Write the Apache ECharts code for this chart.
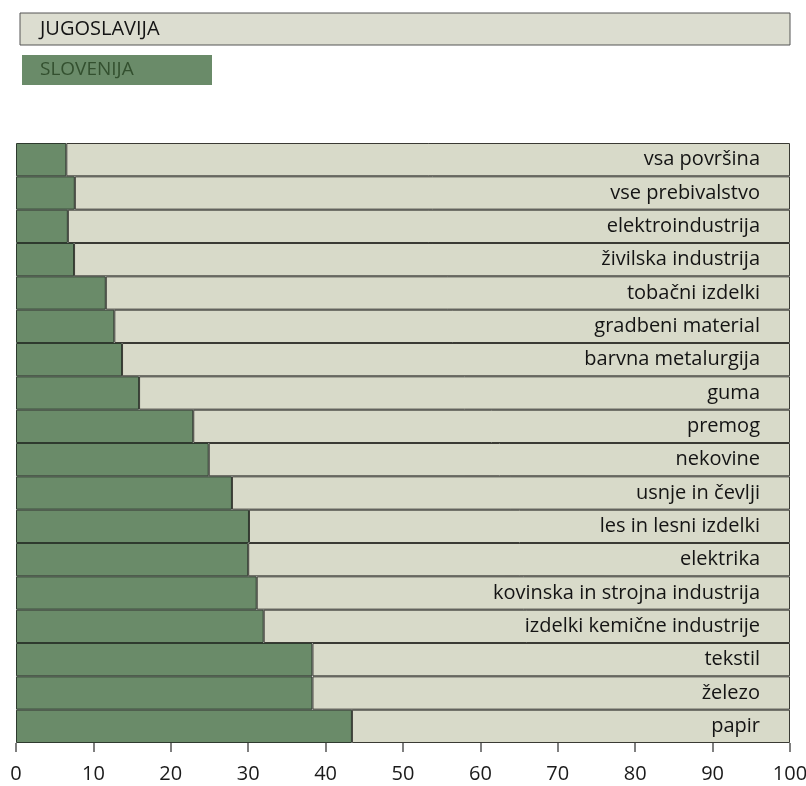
<!DOCTYPE html>
<html>
<head>
<meta charset="utf-8">
<script src="https://cdn.jsdelivr.net/npm/echarts@6/dist/echarts.min.js"></script>
<style>
html, body { margin: 0; padding: 0; background: #fff; }
#chart { width: 806px; height: 786px; }
</style>
</head>
<body>
<div id="chart"></div>
<script>
var categories = ['vsa površina', 'vse prebivalstvo', 'elektroindustrija', 'živilska industrija',
    'tobačni izdelki', 'gradbeni material', 'barvna metalurgija', 'guma', 'premog', 'nekovine',
    'usnje in čevlji', 'les in lesni izdelki', 'elektrika', 'kovinska in strojna industrija',
    'izdelki kemične industrije', 'tekstil', 'železo', 'papir'];
// delež Slovenije (%)
var slovenija = [6.5, 7.6, 6.7, 7.5, 11.6, 12.7, 13.7, 15.9, 22.9, 24.9, 27.9, 30.1, 30.0, 31.1, 32.0, 38.3, 38.3, 43.4];
// ostanek do 100 = Jugoslavija brez Slovenije
var jugoslavija = slovenija.map(function (v) { return Math.round((100 - v) * 10) / 10; });
var xTicks = [0, 10, 20, 30, 40, 50, 60, 70, 80, 90, 100];

var chart = echarts.init(document.getElementById('chart'));
var font = '"Open Sans", "Noto Sans", sans-serif';

var option = {
    animation: false,
    textStyle: { fontFamily: font },
    grid: { left: 16, right: 16, top: 143, bottom: 43, outerBoundsMode: 'none' },
    xAxis: {
        type: 'value',
        min: 0,
        max: 100,
        interval: 10,
        splitLine: { show: false },
        axisLine: { show: false },
        axisTick: { show: true, length: 9, lineStyle: { color: '#555', width: 1.5 } },
        axisLabel: {
            color: '#1a1a1a', fontSize: 20, margin: 21, fontFamily: font,
            formatter: function (v) { return xTicks.indexOf(v) >= 0 ? v : ''; }
        }
    },
    yAxis: {
        type: 'category',
        data: categories,
        inverse: true,
        axisLine: { show: false },
        axisTick: { show: false },
        axisLabel: { show: false }
    },
    series: [
        {
            name: 'SLOVENIJA',
            type: 'bar',
            stack: 'all',
            barCategoryGap: 0,
            data: slovenija,
            itemStyle: { color: '#6a8b69', borderColor: '#2e3a2e', borderWidth: 1 }
        },
        {
            name: 'JUGOSLAVIJA',
            type: 'bar',
            stack: 'all',
            barCategoryGap: 0,
            data: jugoslavija,
            itemStyle: { color: '#d8dac9', borderColor: '#3a3a34', borderWidth: 1 },
            label: {
                show: true,
                position: 'insideRight',
                distance: 30,
                color: '#141414',
                fontSize: 20,
                fontFamily: font,
                formatter: function (p) { return p.name; }
            }
        }
    ],
    graphic: [
        {
            type: 'rect',
            shape: { x: 20, y: 13, width: 770, height: 32 },
            style: { fill: '#dcddd0', stroke: '#555', lineWidth: 1 }
        },
        {
            type: 'text',
            x: 40, y: 29,
            style: { text: 'JUGOSLAVIJA', fill: '#141414', font: '20px ' + font, verticalAlign: 'middle' }
        },
        {
            type: 'rect',
            shape: { x: 22, y: 55, width: 190, height: 30 },
            style: { fill: '#6a8b69' }
        },
        {
            type: 'text',
            x: 40, y: 70,
            style: { text: 'SLOVENIJA', fill: '#33502f', font: '19px ' + font, verticalAlign: 'middle' }
        }
    ]
};

chart.setOption(option);
</script>
</body>
</html>
